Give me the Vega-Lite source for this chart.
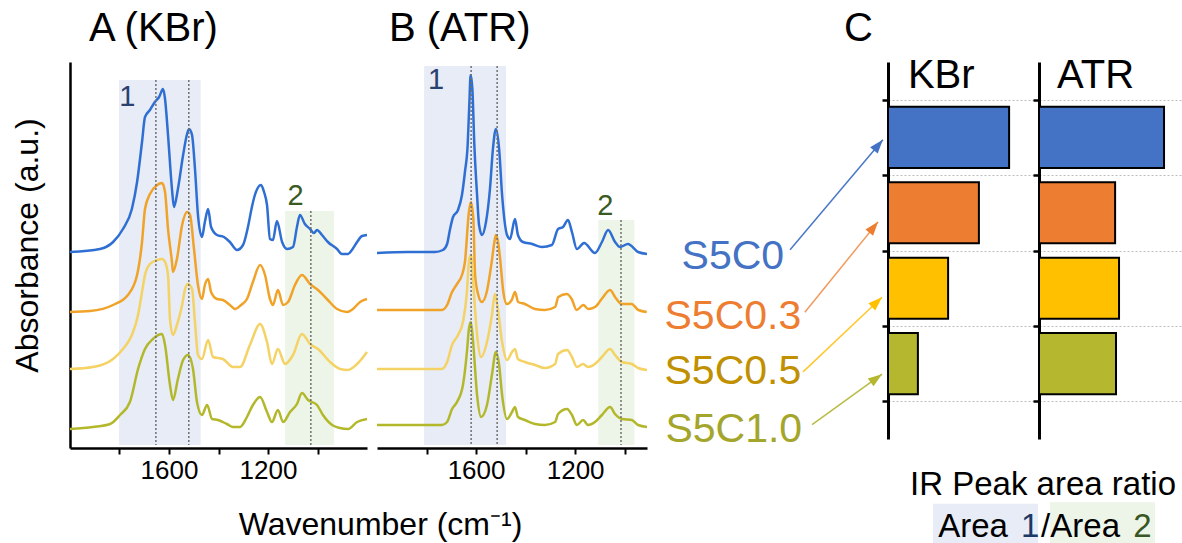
{
"$schema":"https://vega.github.io/schema/vega-lite/v6.json",
"padding":{"left":11,"top":9,"right":0,"bottom":0},
"bounds":"flush",
"spacing":0,
"config":{"view":{"stroke":null},"font":"Liberation Sans","title":{"fontWeight":"normal","color":"black","fontSize":40,"anchor":"start","frame":"group","baseline":"alphabetic","offset":13}},
"datasets":{
"shadeA":[{"r":"1","w":1802,"w2":1472,"a":3.68,"a0":0.03},{"r":"2","w":1131,"w2":933,"a":2.37,"a0":0.03}],
"dotsA":[{"w":1653,"a":3.68,"a0":0.03},{"w":1520,"a":3.68,"a0":0.03},{"w":1027,"a":2.37,"a0":0.03}],
"labA":[{"r":"1","w":1768,"a":3.51},{"r":"2","w":1089,"a":2.52}],
"shadeB":[{"r":"1","w":1810,"w2":1479,"a":3.82,"a0":0.03},{"r":"2","w":1107,"w2":961,"a":2.28,"a0":0.03}],
"dotsB":[{"w":1620,"a":3.82,"a0":0.03},{"w":1515,"a":3.82,"a0":0.03},{"w":1015,"a":2.28,"a0":0.03}],
"labB":[{"r":"1","w":1762,"a":3.68},{"r":"2","w":1078,"a":2.42}],
"specA":[
{"s":"S5C0","w":2000,"a":1.96},{"s":"S5C0","w":1879,"a":1.99},{"s":"S5C0","w":1826,"a":2.06},{"s":"S5C0","w":1786,"a":2.19},{"s":"S5C0","w":1750,"a":2.39},{"s":"S5C0","w":1729,"a":2.66},{"s":"S5C0","w":1709,"a":3.06},{"s":"S5C0","w":1697,"a":3.31},{"s":"S5C0","w":1677,"a":3.38},{"s":"S5C0","w":1657,"a":3.46},{"s":"S5C0","w":1640,"a":3.51},{"s":"S5C0","w":1624,"a":3.59},{"s":"S5C0","w":1616,"a":3.49},{"s":"S5C0","w":1604,"a":3.13},{"s":"S5C0","w":1588,"a":2.59},{"s":"S5C0","w":1580,"a":2.41},{"s":"S5C0","w":1564,"a":2.59},{"s":"S5C0","w":1543,"a":2.93},{"s":"S5C0","w":1527,"a":3.14},{"s":"S5C0","w":1519,"a":3.19},{"s":"S5C0","w":1507,"a":3.13},{"s":"S5C0","w":1495,"a":2.79},{"s":"S5C0","w":1483,"a":2.33},{"s":"S5C0","w":1467,"a":2.11},{"s":"S5C0","w":1455,"a":2.26},{"s":"S5C0","w":1442,"a":2.39},{"s":"S5C0","w":1430,"a":2.21},{"s":"S5C0","w":1406,"a":2.13},{"s":"S5C0","w":1378,"a":2.11},{"s":"S5C0","w":1354,"a":2.06},{"s":"S5C0","w":1325,"a":1.98},{"s":"S5C0","w":1301,"a":2.03},{"s":"S5C0","w":1281,"a":2.21},{"s":"S5C0","w":1265,"a":2.41},{"s":"S5C0","w":1253,"a":2.53},{"s":"S5C0","w":1228,"a":2.63},{"s":"S5C0","w":1216,"a":2.56},{"s":"S5C0","w":1204,"a":2.43},{"s":"S5C0","w":1192,"a":2.09},{"s":"S5C0","w":1180,"a":2.08},{"s":"S5C0","w":1164,"a":2.27},{"s":"S5C0","w":1143,"a":2.06},{"s":"S5C0","w":1123,"a":1.99},{"s":"S5C0","w":1099,"a":2.01},{"s":"S5C0","w":1083,"a":2.21},{"s":"S5C0","w":1071,"a":2.33},{"s":"S5C0","w":1051,"a":2.24},{"s":"S5C0","w":1030,"a":2.19},{"s":"S5C0","w":1014,"a":2.15},{"s":"S5C0","w":1002,"a":2.18},{"s":"S5C0","w":982,"a":2.13},{"s":"S5C0","w":958,"a":2.06},{"s":"S5C0","w":921,"a":1.99},{"s":"S5C0","w":901,"a":1.94},{"s":"S5C0","w":877,"a":1.94},{"s":"S5C0","w":861,"a":1.98},{"s":"S5C0","w":840,"a":2.06},{"s":"S5C0","w":820,"a":2.12},{"s":"S5C0","w":800,"a":2.13},
{"s":"S5C0.3","w":2000,"a":1.36},{"s":"S5C0.3","w":1919,"a":1.37},{"s":"S5C0.3","w":1826,"a":1.43},{"s":"S5C0.3","w":1766,"a":1.53},{"s":"S5C0.3","w":1729,"a":1.73},{"s":"S5C0.3","w":1709,"a":2.06},{"s":"S5C0.3","w":1697,"a":2.39},{"s":"S5C0.3","w":1677,"a":2.54},{"s":"S5C0.3","w":1648,"a":2.63},{"s":"S5C0.3","w":1628,"a":2.65},{"s":"S5C0.3","w":1616,"a":2.56},{"s":"S5C0.3","w":1604,"a":2.19},{"s":"S5C0.3","w":1588,"a":1.86},{"s":"S5C0.3","w":1584,"a":1.76},{"s":"S5C0.3","w":1568,"a":1.89},{"s":"S5C0.3","w":1547,"a":2.23},{"s":"S5C0.3","w":1527,"a":2.36},{"s":"S5C0.3","w":1515,"a":2.33},{"s":"S5C0.3","w":1499,"a":1.99},{"s":"S5C0.3","w":1483,"a":1.63},{"s":"S5C0.3","w":1467,"a":1.49},{"s":"S5C0.3","w":1455,"a":1.63},{"s":"S5C0.3","w":1442,"a":1.69},{"s":"S5C0.3","w":1430,"a":1.56},{"s":"S5C0.3","w":1406,"a":1.49},{"s":"S5C0.3","w":1382,"a":1.48},{"s":"S5C0.3","w":1354,"a":1.43},{"s":"S5C0.3","w":1333,"a":1.39},{"s":"S5C0.3","w":1309,"a":1.43},{"s":"S5C0.3","w":1285,"a":1.49},{"s":"S5C0.3","w":1261,"a":1.66},{"s":"S5C0.3","w":1232,"a":1.83},{"s":"S5C0.3","w":1212,"a":1.73},{"s":"S5C0.3","w":1192,"a":1.49},{"s":"S5C0.3","w":1180,"a":1.43},{"s":"S5C0.3","w":1160,"a":1.58},{"s":"S5C0.3","w":1139,"a":1.43},{"s":"S5C0.3","w":1119,"a":1.46},{"s":"S5C0.3","w":1091,"a":1.63},{"s":"S5C0.3","w":1063,"a":1.73},{"s":"S5C0.3","w":1030,"a":1.64},{"s":"S5C0.3","w":998,"a":1.58},{"s":"S5C0.3","w":962,"a":1.49},{"s":"S5C0.3","w":921,"a":1.39},{"s":"S5C0.3","w":881,"a":1.36},{"s":"S5C0.3","w":857,"a":1.39},{"s":"S5C0.3","w":828,"a":1.46},{"s":"S5C0.3","w":800,"a":1.49},
{"s":"S5C0.5","w":2000,"a":0.79},{"s":"S5C0.5","w":1907,"a":0.81},{"s":"S5C0.5","w":1826,"a":0.89},{"s":"S5C0.5","w":1786,"a":0.99},{"s":"S5C0.5","w":1750,"a":1.13},{"s":"S5C0.5","w":1725,"a":1.33},{"s":"S5C0.5","w":1709,"a":1.56},{"s":"S5C0.5","w":1697,"a":1.73},{"s":"S5C0.5","w":1677,"a":1.84},{"s":"S5C0.5","w":1648,"a":1.88},{"s":"S5C0.5","w":1628,"a":1.89},{"s":"S5C0.5","w":1616,"a":1.86},{"s":"S5C0.5","w":1604,"a":1.73},{"s":"S5C0.5","w":1596,"a":1.29},{"s":"S5C0.5","w":1584,"a":1.13},{"s":"S5C0.5","w":1568,"a":1.23},{"s":"S5C0.5","w":1547,"a":1.43},{"s":"S5C0.5","w":1535,"a":1.59},{"s":"S5C0.5","w":1523,"a":1.64},{"s":"S5C0.5","w":1507,"a":1.59},{"s":"S5C0.5","w":1495,"a":1.26},{"s":"S5C0.5","w":1483,"a":0.93},{"s":"S5C0.5","w":1467,"a":0.89},{"s":"S5C0.5","w":1442,"a":1.08},{"s":"S5C0.5","w":1422,"a":0.91},{"s":"S5C0.5","w":1382,"a":0.89},{"s":"S5C0.5","w":1341,"a":0.81},{"s":"S5C0.5","w":1313,"a":0.81},{"s":"S5C0.5","w":1273,"a":1.03},{"s":"S5C0.5","w":1232,"a":1.24},{"s":"S5C0.5","w":1204,"a":1.06},{"s":"S5C0.5","w":1184,"a":0.84},{"s":"S5C0.5","w":1160,"a":0.99},{"s":"S5C0.5","w":1131,"a":0.84},{"s":"S5C0.5","w":1099,"a":0.93},{"s":"S5C0.5","w":1063,"a":1.14},{"s":"S5C0.5","w":1030,"a":1.04},{"s":"S5C0.5","w":998,"a":0.99},{"s":"S5C0.5","w":949,"a":0.86},{"s":"S5C0.5","w":909,"a":0.79},{"s":"S5C0.5","w":877,"a":0.78},{"s":"S5C0.5","w":840,"a":0.84},{"s":"S5C0.5","w":800,"a":0.96},
{"s":"S5C1.0","w":2000,"a":0.19},{"s":"S5C1.0","w":1907,"a":0.21},{"s":"S5C1.0","w":1838,"a":0.24},{"s":"S5C1.0","w":1798,"a":0.33},{"s":"S5C1.0","w":1758,"a":0.46},{"s":"S5C1.0","w":1725,"a":0.79},{"s":"S5C1.0","w":1697,"a":0.99},{"s":"S5C1.0","w":1665,"a":1.09},{"s":"S5C1.0","w":1628,"a":1.14},{"s":"S5C1.0","w":1616,"a":1.03},{"s":"S5C1.0","w":1596,"a":0.63},{"s":"S5C1.0","w":1584,"a":0.48},{"s":"S5C1.0","w":1564,"a":0.69},{"s":"S5C1.0","w":1543,"a":0.88},{"s":"S5C1.0","w":1523,"a":0.93},{"s":"S5C1.0","w":1503,"a":0.79},{"s":"S5C1.0","w":1487,"a":0.46},{"s":"S5C1.0","w":1467,"a":0.33},{"s":"S5C1.0","w":1446,"a":0.43},{"s":"S5C1.0","w":1426,"a":0.29},{"s":"S5C1.0","w":1402,"a":0.28},{"s":"S5C1.0","w":1366,"a":0.24},{"s":"S5C1.0","w":1341,"a":0.21},{"s":"S5C1.0","w":1313,"a":0.21},{"s":"S5C1.0","w":1285,"a":0.31},{"s":"S5C1.0","w":1261,"a":0.43},{"s":"S5C1.0","w":1232,"a":0.51},{"s":"S5C1.0","w":1204,"a":0.36},{"s":"S5C1.0","w":1184,"a":0.26},{"s":"S5C1.0","w":1160,"a":0.38},{"s":"S5C1.0","w":1139,"a":0.26},{"s":"S5C1.0","w":1111,"a":0.36},{"s":"S5C1.0","w":1083,"a":0.44},{"s":"S5C1.0","w":1063,"a":0.55},{"s":"S5C1.0","w":1038,"a":0.48},{"s":"S5C1.0","w":1002,"a":0.43},{"s":"S5C1.0","w":978,"a":0.33},{"s":"S5C1.0","w":941,"a":0.23},{"s":"S5C1.0","w":909,"a":0.2},{"s":"S5C1.0","w":877,"a":0.19},{"s":"S5C1.0","w":840,"a":0.26},{"s":"S5C1.0","w":800,"a":0.29}
],
"specB":[
{"s":"S5C0","w":2000,"a":1.95},{"s":"S5C0","w":1875,"a":1.96},{"s":"S5C0","w":1766,"a":1.96},{"s":"S5C0","w":1734,"a":1.98},{"s":"S5C0","w":1717,"a":2.04},{"s":"S5C0","w":1705,"a":2.19},{"s":"S5C0","w":1693,"a":2.31},{"s":"S5C0","w":1673,"a":2.38},{"s":"S5C0","w":1657,"a":2.53},{"s":"S5C0","w":1645,"a":2.76},{"s":"S5C0","w":1634,"a":3.03},{"s":"S5C0","w":1627,"a":3.46},{"s":"S5C0","w":1622,"a":3.73},{"s":"S5C0","w":1615,"a":3.59},{"s":"S5C0","w":1607,"a":3.03},{"s":"S5C0","w":1596,"a":2.53},{"s":"S5C0","w":1588,"a":2.23},{"s":"S5C0","w":1576,"a":2.13},{"s":"S5C0","w":1560,"a":2.26},{"s":"S5C0","w":1544,"a":2.59},{"s":"S5C0","w":1532,"a":2.99},{"s":"S5C0","w":1520,"a":3.19},{"s":"S5C0","w":1507,"a":2.99},{"s":"S5C0","w":1495,"a":2.53},{"s":"S5C0","w":1475,"a":2.13},{"s":"S5C0","w":1463,"a":2.09},{"s":"S5C0","w":1443,"a":2.29},{"s":"S5C0","w":1431,"a":2.13},{"s":"S5C0","w":1411,"a":2.06},{"s":"S5C0","w":1374,"a":2.04},{"s":"S5C0","w":1334,"a":2.01},{"s":"S5C0","w":1294,"a":2.03},{"s":"S5C0","w":1269,"a":2.19},{"s":"S5C0","w":1249,"a":2.21},{"s":"S5C0","w":1229,"a":2.28},{"s":"S5C0","w":1213,"a":2.16},{"s":"S5C0","w":1193,"a":1.99},{"s":"S5C0","w":1164,"a":2.05},{"s":"S5C0","w":1120,"a":1.95},{"s":"S5C0","w":1092,"a":2.06},{"s":"S5C0","w":1067,"a":2.18},{"s":"S5C0","w":1039,"a":2.06},{"s":"S5C0","w":1019,"a":2.01},{"s":"S5C0","w":987,"a":2.04},{"s":"S5C0","w":946,"a":1.96},{"s":"S5C0","w":910,"a":1.94},
{"s":"S5C0.3","w":2000,"a":1.38},{"s":"S5C0.3","w":1875,"a":1.38},{"s":"S5C0.3","w":1738,"a":1.38},{"s":"S5C0.3","w":1717,"a":1.43},{"s":"S5C0.3","w":1697,"a":1.56},{"s":"S5C0.3","w":1677,"a":1.64},{"s":"S5C0.3","w":1657,"a":1.73},{"s":"S5C0.3","w":1645,"a":1.86},{"s":"S5C0.3","w":1629,"a":2.36},{"s":"S5C0.3","w":1621,"a":2.46},{"s":"S5C0.3","w":1611,"a":2.29},{"s":"S5C0.3","w":1604,"a":1.73},{"s":"S5C0.3","w":1591,"a":1.53},{"s":"S5C0.3","w":1577,"a":1.46},{"s":"S5C0.3","w":1557,"a":1.56},{"s":"S5C0.3","w":1537,"a":1.86},{"s":"S5C0.3","w":1526,"a":2.06},{"s":"S5C0.3","w":1520,"a":2.13},{"s":"S5C0.3","w":1510,"a":2.04},{"s":"S5C0.3","w":1503,"a":1.89},{"s":"S5C0.3","w":1490,"a":1.56},{"s":"S5C0.3","w":1476,"a":1.44},{"s":"S5C0.3","w":1456,"a":1.48},{"s":"S5C0.3","w":1443,"a":1.56},{"s":"S5C0.3","w":1430,"a":1.46},{"s":"S5C0.3","w":1403,"a":1.44},{"s":"S5C0.3","w":1362,"a":1.39},{"s":"S5C0.3","w":1322,"a":1.38},{"s":"S5C0.3","w":1281,"a":1.41},{"s":"S5C0.3","w":1268,"a":1.51},{"s":"S5C0.3","w":1234,"a":1.54},{"s":"S5C0.3","w":1214,"a":1.49},{"s":"S5C0.3","w":1194,"a":1.38},{"s":"S5C0.3","w":1167,"a":1.43},{"s":"S5C0.3","w":1147,"a":1.39},{"s":"S5C0.3","w":1120,"a":1.41},{"s":"S5C0.3","w":1093,"a":1.49},{"s":"S5C0.3","w":1059,"a":1.58},{"s":"S5C0.3","w":1039,"a":1.51},{"s":"S5C0.3","w":1012,"a":1.44},{"s":"S5C0.3","w":972,"a":1.44},{"s":"S5C0.3","w":945,"a":1.38},{"s":"S5C0.3","w":911,"a":1.36},
{"s":"S5C0.5","w":2000,"a":0.79},{"s":"S5C0.5","w":1738,"a":0.79},{"s":"S5C0.5","w":1717,"a":0.86},{"s":"S5C0.5","w":1697,"a":1.03},{"s":"S5C0.5","w":1673,"a":1.13},{"s":"S5C0.5","w":1653,"a":1.26},{"s":"S5C0.5","w":1637,"a":1.56},{"s":"S5C0.5","w":1629,"a":1.86},{"s":"S5C0.5","w":1621,"a":1.93},{"s":"S5C0.5","w":1612,"a":1.66},{"s":"S5C0.5","w":1596,"a":1.13},{"s":"S5C0.5","w":1580,"a":0.91},{"s":"S5C0.5","w":1556,"a":1.06},{"s":"S5C0.5","w":1536,"a":1.33},{"s":"S5C0.5","w":1524,"a":1.54},{"s":"S5C0.5","w":1512,"a":1.39},{"s":"S5C0.5","w":1495,"a":1.06},{"s":"S5C0.5","w":1475,"a":0.88},{"s":"S5C0.5","w":1455,"a":0.96},{"s":"S5C0.5","w":1443,"a":0.99},{"s":"S5C0.5","w":1431,"a":0.89},{"s":"S5C0.5","w":1403,"a":0.86},{"s":"S5C0.5","w":1362,"a":0.83},{"s":"S5C0.5","w":1322,"a":0.8},{"s":"S5C0.5","w":1281,"a":0.84},{"s":"S5C0.5","w":1269,"a":0.94},{"s":"S5C0.5","w":1233,"a":0.98},{"s":"S5C0.5","w":1213,"a":0.91},{"s":"S5C0.5","w":1193,"a":0.81},{"s":"S5C0.5","w":1168,"a":0.84},{"s":"S5C0.5","w":1148,"a":0.81},{"s":"S5C0.5","w":1120,"a":0.84},{"s":"S5C0.5","w":1092,"a":0.91},{"s":"S5C0.5","w":1059,"a":0.99},{"s":"S5C0.5","w":1039,"a":0.93},{"s":"S5C0.5","w":1011,"a":0.86},{"s":"S5C0.5","w":971,"a":0.84},{"s":"S5C0.5","w":946,"a":0.8},{"s":"S5C0.5","w":910,"a":0.78},
{"s":"S5C1.0","w":2000,"a":0.23},{"s":"S5C1.0","w":1738,"a":0.23},{"s":"S5C1.0","w":1717,"a":0.26},{"s":"S5C1.0","w":1697,"a":0.39},{"s":"S5C1.0","w":1677,"a":0.46},{"s":"S5C1.0","w":1653,"a":0.63},{"s":"S5C1.0","w":1637,"a":0.96},{"s":"S5C1.0","w":1629,"a":1.19},{"s":"S5C1.0","w":1621,"a":1.26},{"s":"S5C1.0","w":1612,"a":1.06},{"s":"S5C1.0","w":1596,"a":0.53},{"s":"S5C1.0","w":1580,"a":0.31},{"s":"S5C1.0","w":1556,"a":0.43},{"s":"S5C1.0","w":1536,"a":0.73},{"s":"S5C1.0","w":1520,"a":0.96},{"s":"S5C1.0","w":1507,"a":0.83},{"s":"S5C1.0","w":1495,"a":0.53},{"s":"S5C1.0","w":1475,"a":0.29},{"s":"S5C1.0","w":1455,"a":0.36},{"s":"S5C1.0","w":1443,"a":0.41},{"s":"S5C1.0","w":1431,"a":0.31},{"s":"S5C1.0","w":1403,"a":0.28},{"s":"S5C1.0","w":1362,"a":0.24},{"s":"S5C1.0","w":1322,"a":0.23},{"s":"S5C1.0","w":1281,"a":0.26},{"s":"S5C1.0","w":1269,"a":0.34},{"s":"S5C1.0","w":1233,"a":0.39},{"s":"S5C1.0","w":1213,"a":0.33},{"s":"S5C1.0","w":1193,"a":0.23},{"s":"S5C1.0","w":1168,"a":0.28},{"s":"S5C1.0","w":1148,"a":0.23},{"s":"S5C1.0","w":1120,"a":0.26},{"s":"S5C1.0","w":1092,"a":0.33},{"s":"S5C1.0","w":1059,"a":0.41},{"s":"S5C1.0","w":1039,"a":0.34},{"s":"S5C1.0","w":1011,"a":0.29},{"s":"S5C1.0","w":971,"a":0.28},{"s":"S5C1.0","w":946,"a":0.23},{"s":"S5C1.0","w":910,"a":0.21}
],
"arrows":[{"s":"S5C0","x0":-3.25,"y0":2.49,"x1":-0.17,"y1":1.03},{"s":"S5C0.3","x0":-2.76,"y0":3.32,"x1":-0.33,"y1":2.12},{"s":"S5C0.5","x0":-2.82,"y0":4.11,"x1":-0.2,"y1":3.12},{"s":"S5C1.0","x0":-2.52,"y0":4.81,"x1":-0.2,"y1":4.14}],
"labels":[{"s":"S5C0","x":-5.15,"y":2.745},{"s":"S5C0.3","x":-5.15,"y":3.54},{"s":"S5C0.5","x":-5.15,"y":4.27},{"s":"S5C1.0","x":-5.12,"y":5.04}],
"barsK":[{"s":"S5C0","v":4.01},{"s":"S5C0.3","v":3.01},{"s":"S5C0.5","v":1.99},{"s":"S5C1.0","v":0.99}],
"barsA":[{"s":"S5C0","v":4.14},{"s":"S5C0.3","v":2.52},{"s":"S5C0.5","v":2.65},{"s":"S5C1.0","v":2.55}],
"areaBg":[{"area":"1","x0":1.49,"x1":4.97,"y0":5.86,"y1":6.41},{"area":"2","x0":5.36,"x1":8.84,"y0":5.84,"y1":6.41}],
"areaTxt":[{"t":"Area","c":"plain","x":1.66,"y":6.3},{"t":"1","c":"1","x":4.4,"y":6.3},{"t":"/Area","c":"plain","x":5.07,"y":6.3},{"t":"2","c":"2","x":8.12,"y":6.3}]
},
"hconcat":[
{
"width":297,"height":386,
"title":{"text":"A (KBr)","dx":19},
"resolve":{"scale":{"color":"independent"}},
"encoding":{
 "x":{"field":"w","type":"quantitative","scale":{"domain":[800,2000],"reverse":true,"nice":false,"zero":false},
  "axis":{"values":[1800,1600,1400,1200,1000],"format":"d","labelExpr":"(datum.value==1600||datum.value==1200)?datum.label:''","domain":true,"domainColor":"black","domainWidth":2.5,"ticks":true,"tickColor":"black","tickWidth":2,"tickSize":6,"labelFontSize":26,"labelColor":"black","labelPadding":3,"grid":false,"title":"Wavenumber (cm⁻¹)","titleFontSize":32,"titleFontWeight":"normal","titleColor":"black","titleX":310,"titleY":86,"titleBaseline":"alphabetic","titleAlign":"center"}},
 "y":{"field":"a","type":"quantitative","scale":{"domain":[0,3.86],"nice":false,"zero":false},
  "axis":{"domain":true,"domainColor":"black","domainWidth":2.5,"ticks":false,"labels":false,"grid":false,"title":"Absorbance (a.u.)","titleFontSize":32,"titleFontWeight":"normal","titleColor":"black","titleX":-33,"titleY":183,"titleAngle":-90,"titleBaseline":"alphabetic","titleAlign":"center"}}
},
"layer":[
{"data":{"name":"shadeA"},"mark":{"type":"rect"},
 "encoding":{"x2":{"field":"w2"},"y2":{"field":"a0"},
  "fill":{"field":"r","type":"nominal","scale":{"domain":["1","2"],"range":["#e7ecf6","#edf5e8"]},"legend":null}}},
{"data":{"name":"specA"},"mark":{"type":"line","strokeWidth":2.5,"interpolate":"monotone"},
 "encoding":{"color":{"field":"s","type":"nominal","scale":{"domain":["S5C0","S5C0.3","S5C0.5","S5C1.0"],"range":["#2f6fd3","#f0a328","#f4d263","#b3b82b"]},"legend":null}}},
{"data":{"name":"dotsA"},"mark":{"type":"rule","color":"#707070","strokeDash":[2,2],"strokeWidth":1.5},
 "encoding":{"y2":{"field":"a0"}}},
{"data":{"name":"labA"},"mark":{"type":"text","fontSize":29,"align":"center","baseline":"middle"},
 "encoding":{"text":{"field":"r"},
  "color":{"field":"r","type":"nominal","scale":{"domain":["1","2"],"range":["#2b4170","#3b5a22"]},"legend":null}}}
]
},
{"width":10,"height":386,"data":{"values":[{"z":0}]},"mark":{"type":"point","opacity":0}},
{
"width":270,"height":386,
"title":{"text":"B (ATR)","dx":12},
"resolve":{"scale":{"color":"independent"}},
"encoding":{
 "x":{"field":"w","type":"quantitative","scale":{"domain":[910,2000],"reverse":true,"nice":false,"zero":false},
  "axis":{"values":[1800,1600,1400,1200,1000],"format":"d","labelExpr":"(datum.value==1600||datum.value==1200)?datum.label:''","domain":true,"domainColor":"black","domainWidth":2.5,"ticks":true,"tickColor":"black","tickWidth":2,"tickSize":6,"labelFontSize":26,"labelColor":"black","labelPadding":3,"grid":false,"title":null}},
 "y":{"field":"a","type":"quantitative","scale":{"domain":[0,3.86],"nice":false,"zero":false},"axis":null}
},
"layer":[
{"data":{"name":"shadeB"},"mark":{"type":"rect"},
 "encoding":{"x2":{"field":"w2"},"y2":{"field":"a0"},
  "fill":{"field":"r","type":"nominal","scale":{"domain":["1","2"],"range":["#e7ecf6","#edf5e8"]},"legend":null}}},
{"data":{"name":"specB"},"mark":{"type":"line","strokeWidth":2.5,"interpolate":"monotone"},
 "encoding":{"color":{"field":"s","type":"nominal","scale":{"domain":["S5C0","S5C0.3","S5C0.5","S5C1.0"],"range":["#2f6fd3","#f0a328","#f4d263","#b3b82b"]},"legend":null}}},
{"data":{"name":"dotsB"},"mark":{"type":"rule","color":"#707070","strokeDash":[2,2],"strokeWidth":1.5},
 "encoding":{"y2":{"field":"a0"}}},
{"data":{"name":"labB"},"mark":{"type":"text","fontSize":29,"align":"center","baseline":"middle"},
 "encoding":{"text":{"field":"r"},
  "color":{"field":"r","type":"nominal","scale":{"domain":["1","2"],"range":["#2b4170","#3b5a22"]},"legend":null}}}
]
},
{
"width":241,"height":377,
"title":{"text":"C","anchor":"end","dx":-15},
"resolve":{"scale":{"color":"independent"}},
"layer":[
{"data":{"name":"arrows"},"mark":{"type":"rule","strokeWidth":1.5},
 "encoding":{
  "x":{"field":"x0","type":"quantitative","scale":{"domain":[-8,0],"nice":false,"zero":false},"axis":null},
  "y":{"field":"y0","type":"quantitative","scale":{"domain":[0,5],"reverse":true,"nice":false,"zero":false},"axis":null},
  "x2":{"field":"x1"},"y2":{"field":"y1"},
  "color":{"field":"s","type":"nominal","scale":{"domain":["S5C0","S5C0.3","S5C0.5","S5C1.0"],"range":["#4a78c8","#f09a5c","#ffc72c","#b9bb45"]},"legend":null}}},
{"data":{"name":"arrows"},"mark":{"type":"point","size":270,"filled":true,"opacity":1,"strokeWidth":0},
 "encoding":{
  "x":{"field":"x1","type":"quantitative","scale":{"domain":[-8,0],"nice":false,"zero":false},"axis":null},
  "y":{"field":"y1","type":"quantitative","scale":{"domain":[0,5],"reverse":true,"nice":false,"zero":false},"axis":null},
  "shape":{"field":"s","type":"nominal","scale":{"domain":["S5C0","S5C0.3","S5C0.5","S5C1.0"],"range":["M0,0L-0.633,1.688L-1.553,0.916Z","M0,0L-0.604,1.698L-1.536,0.944Z","M0,0L-0.82,1.605L-1.646,0.735Z","M0,0L-1.022,1.484L-1.728,0.514Z"]},"legend":null},
  "color":{"field":"s","type":"nominal","scale":{"domain":["S5C0","S5C0.3","S5C0.5","S5C1.0"],"range":["#4472c4","#ed7d31","#ffc000","#b5b82e"]},"legend":null}}},
{"data":{"name":"labels"},"mark":{"type":"text","fontSize":41,"align":"center","baseline":"alphabetic"},
 "encoding":{
  "x":{"field":"x","type":"quantitative","scale":{"domain":[-8,0],"nice":false,"zero":false},"axis":null},
  "y":{"field":"y","type":"quantitative","scale":{"domain":[0,5],"reverse":true,"nice":false,"zero":false},"axis":null},
  "text":{"field":"s"},
  "color":{"field":"s","type":"nominal","scale":{"domain":["S5C0","S5C0.3","S5C0.5","S5C1.0"],"range":["#4472c4","#ed7d31","#c09000","#a4a52b"]},"legend":null}}}
]
},
{
"width":151,"height":377,
"resolve":{"scale":{"y":"independent","color":"independent"}},
"layer":[
{"data":{"name":"barsK"},"mark":{"type":"bar","height":{"band":0.81},"stroke":"black","strokeWidth":2},
 "encoding":{
  "y":{"field":"s","type":"nominal","scale":{"type":"band","domain":["S5C0","S5C0.3","S5C0.5","S5C1.0"],"paddingInner":0,"paddingOuter":0.5},"axis":{"domain":true,"domainColor":"black","domainWidth":3,"ticks":true,"tickColor":"black","tickWidth":2.5,"tickSize":6,"tickBand":"extent","labels":false,"title":null,"grid":true,"gridColor":"#bdbdbd","gridDash":[2,2],"gridWidth":1}},
  "x":{"field":"v","type":"quantitative","scale":{"domain":[0,5],"nice":false},"axis":{"domain":true,"domainColor":"black","domainWidth":3,"ticks":false,"labels":false,"grid":false,"title":null}},
  "color":{"field":"s","type":"nominal","scale":{"domain":["S5C0","S5C0.3","S5C0.5","S5C1.0"],"range":["#4472c4","#ed7d31","#ffc000","#b5b82e"]},"legend":null}}},
{"data":{"values":[{"t":"KBr","x":0.66,"y":0.345}]},"mark":{"type":"text","fontSize":40,"align":"left","baseline":"alphabetic","color":"black"},
 "encoding":{
  "x":{"field":"x","type":"quantitative","scale":{"domain":[0,5],"nice":false},"axis":null},
  "y":{"field":"y","type":"quantitative","scale":{"domain":[0,5],"reverse":true,"nice":false,"zero":false},"axis":null},
  "text":{"field":"t"}}},
{"data":{"name":"areaBg"},"mark":{"type":"rect"},
 "encoding":{
  "x":{"field":"x0","type":"quantitative","scale":{"domain":[0,5],"nice":false},"axis":null},
  "x2":{"field":"x1"},
  "y":{"field":"y0","type":"quantitative","scale":{"domain":[0,5],"reverse":true,"nice":false,"zero":false},"axis":null},
  "y2":{"field":"y1"},
  "fill":{"field":"area","type":"nominal","scale":{"domain":["1","2"],"range":["#e4eaf5","#ebf3e6"]},"legend":null}}},
{"data":{"values":[{"t":"IR Peak area ratio","x":0.73,"y":5.745}]},"mark":{"type":"text","fontSize":33,"align":"left","baseline":"alphabetic","color":"black"},
 "encoding":{
  "x":{"field":"x","type":"quantitative","scale":{"domain":[0,5],"nice":false},"axis":null},
  "y":{"field":"y","type":"quantitative","scale":{"domain":[0,5],"reverse":true,"nice":false,"zero":false},"axis":null},
  "text":{"field":"t"}}},
{"data":{"name":"areaTxt"},"mark":{"type":"text","fontSize":33,"align":"left","baseline":"alphabetic"},
 "encoding":{
  "x":{"field":"x","type":"quantitative","scale":{"domain":[0,5],"nice":false},"axis":null},
  "y":{"field":"y","type":"quantitative","scale":{"domain":[0,5],"reverse":true,"nice":false,"zero":false},"axis":null},
  "text":{"field":"t"},
  "color":{"field":"c","type":"nominal","scale":{"domain":["plain","1","2"],"range":["#000000","#203864","#385723"]},"legend":null}}}
]
},
{
"width":143,"height":377,
"resolve":{"scale":{"y":"independent","color":"independent"}},
"layer":[
{"data":{"name":"barsA"},"mark":{"type":"bar","height":{"band":0.81},"stroke":"black","strokeWidth":2},
 "encoding":{
  "y":{"field":"s","type":"nominal","scale":{"type":"band","domain":["S5C0","S5C0.3","S5C0.5","S5C1.0"],"paddingInner":0,"paddingOuter":0.5},"axis":{"domain":true,"domainColor":"black","domainWidth":3,"ticks":true,"tickColor":"black","tickWidth":2.5,"tickSize":6,"tickBand":"extent","labels":false,"title":null,"grid":true,"gridColor":"#bdbdbd","gridDash":[2,2],"gridWidth":1}},
  "x":{"field":"v","type":"quantitative","scale":{"domain":[0,4.735],"nice":false},"axis":{"domain":true,"domainColor":"black","domainWidth":3,"ticks":false,"labels":false,"grid":false,"title":null}},
  "color":{"field":"s","type":"nominal","scale":{"domain":["S5C0","S5C0.3","S5C0.5","S5C1.0"],"range":["#4472c4","#ed7d31","#ffc000","#b5b82e"]},"legend":null}}},
{"data":{"values":[{"t":"ATR","x":0.6,"y":0.345}]},"mark":{"type":"text","fontSize":40,"align":"left","baseline":"alphabetic","color":"black"},
 "encoding":{
  "x":{"field":"x","type":"quantitative","scale":{"domain":[0,4.735],"nice":false},"axis":null},
  "y":{"field":"y","type":"quantitative","scale":{"domain":[0,5],"reverse":true,"nice":false,"zero":false},"axis":null},
  "text":{"field":"t"}}}
]
}
]
}
